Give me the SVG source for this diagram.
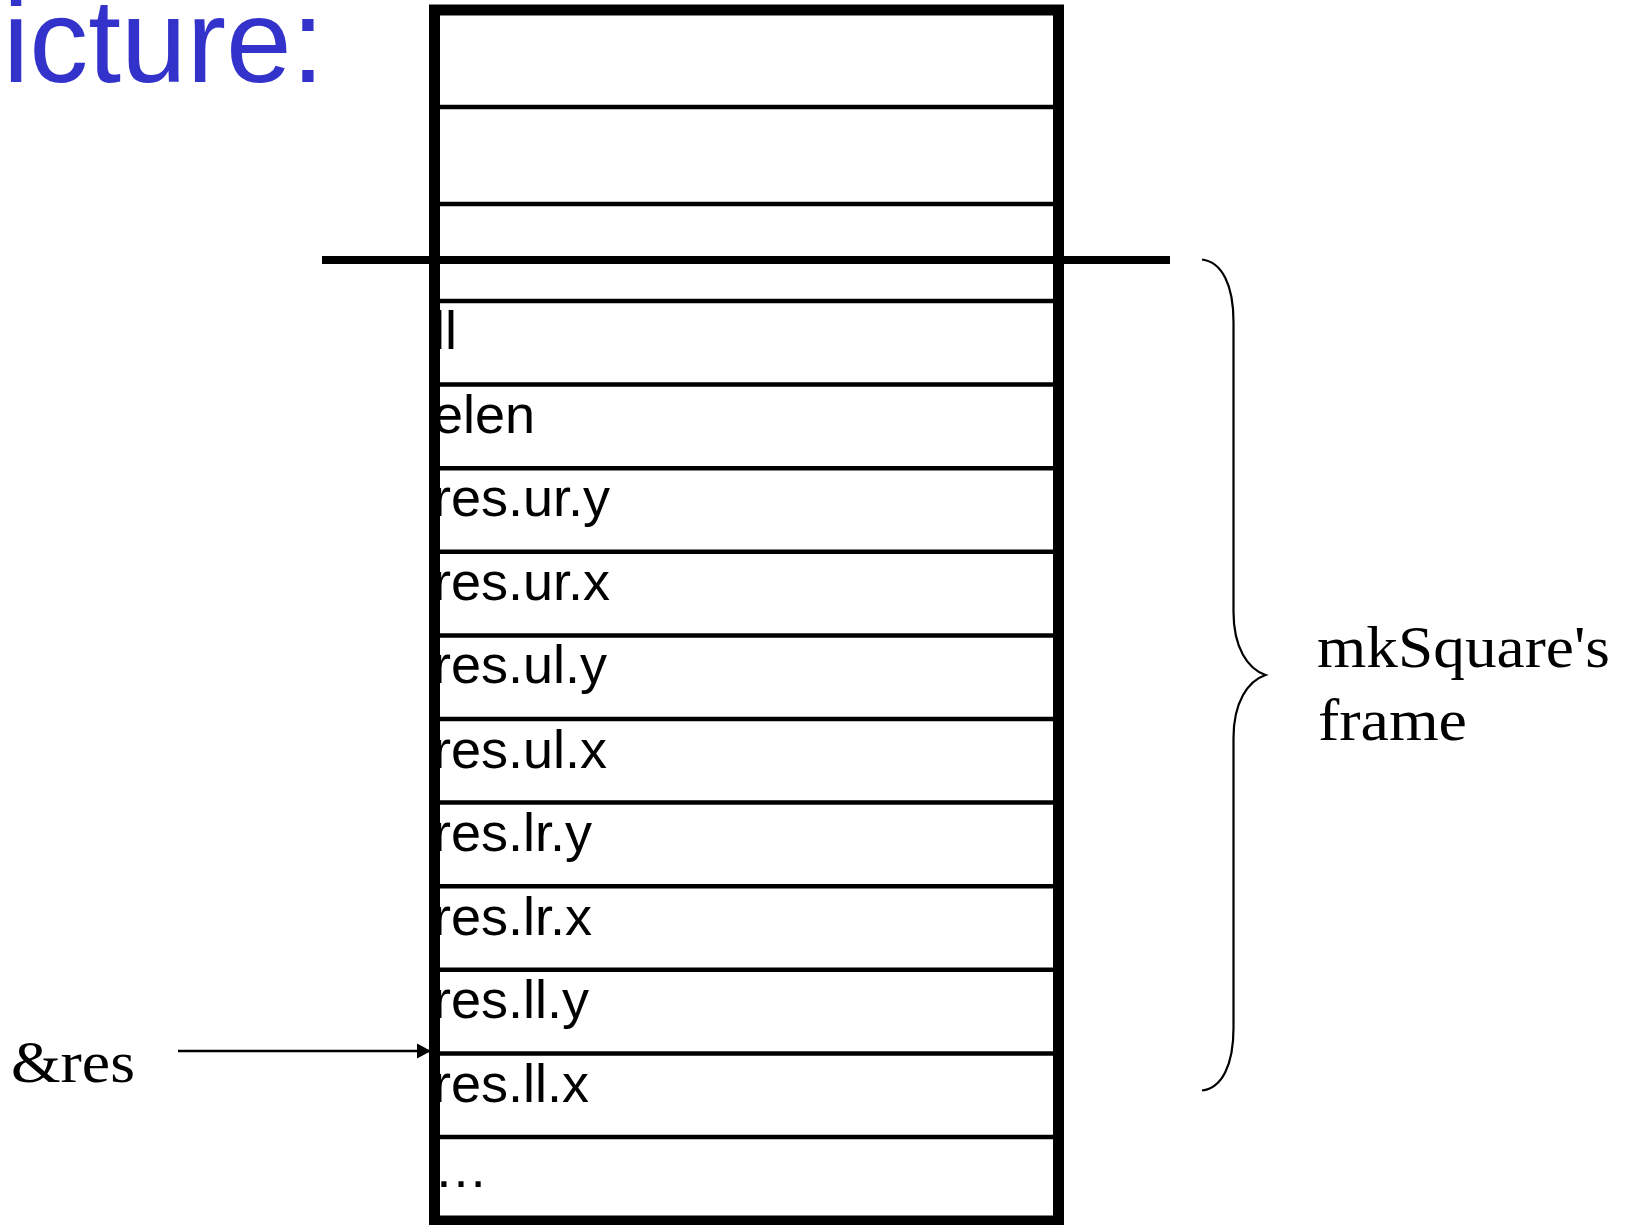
<svg xmlns="http://www.w3.org/2000/svg" width="1633" height="1225" viewBox="0 0 1633 1225">
  <style>
    .cell { font-family: "Liberation Sans", Arial, sans-serif; font-size: 54px; fill: #000; }
    .serif { font-family: "Liberation Serif", "Times New Roman", serif; font-size: 60px; fill: #000; }
    .title { font-family: "Liberation Sans", Arial, sans-serif; font-size: 118px; fill: #3333CC; }
    .row { stroke: #000; stroke-width: 4.5; }
    .outer { fill: none; stroke: #000; stroke-width: 11; }
    .brace { fill: none; stroke: #000; stroke-width: 2.2; }
  </style>
  <defs>
    <marker id="arrowhead" markerUnits="userSpaceOnUse" markerWidth="16" markerHeight="16" refX="14" refY="8" orient="auto">
      <path d="M0,0.5 L14,8 L0,15.5 Z" fill="#000"/>
    </marker>
  </defs>

  <rect width="1633" height="1225" fill="#fff"/>

  <!-- slide heading, partially off the left edge -->
  <text class="title" x="3" y="81.5">icture:</text>

  <!-- stack memory column -->
  <g id="stack">
    <g id="slot-rows">
      <line class="row" x1="434" y1="107" x2="1058" y2="107"/>
      <line class="row" x1="434" y1="204" x2="1058" y2="204"/>
      <line class="row" x1="434" y1="301" x2="1058" y2="301"/>
      <line class="row" x1="434" y1="384.6" x2="1058" y2="384.6"/>
      <line class="row" x1="434" y1="468.2" x2="1058" y2="468.2"/>
      <line class="row" x1="434" y1="551.8" x2="1058" y2="551.8"/>
      <line class="row" x1="434" y1="635.4" x2="1058" y2="635.4"/>
      <line class="row" x1="434" y1="719" x2="1058" y2="719"/>
      <line class="row" x1="434" y1="802.6" x2="1058" y2="802.6"/>
      <line class="row" x1="434" y1="886.2" x2="1058" y2="886.2"/>
      <line class="row" x1="434" y1="969.8" x2="1058" y2="969.8"/>
      <line class="row" x1="434" y1="1053.4" x2="1058" y2="1053.4"/>
      <line class="row" x1="434" y1="1137" x2="1058" y2="1137"/>
    </g>
    <g id="slot-ll"><text class="cell" x="433" y="349">ll</text></g>
    <g id="slot-elen"><text class="cell" x="433" y="432.6">elen</text></g>
    <g id="slot-res-ur-y"><text class="cell" x="433" y="516.2">res.ur.y</text></g>
    <g id="slot-res-ur-x"><text class="cell" x="433" y="599.8">res.ur.x</text></g>
    <g id="slot-res-ul-y"><text class="cell" x="433" y="683.4">res.ul.y</text></g>
    <g id="slot-res-ul-x"><text class="cell" x="433" y="767.5">res.ul.x</text></g>
    <g id="slot-res-lr-y"><text class="cell" x="433" y="851">res.lr.y</text></g>
    <g id="slot-res-lr-x"><text class="cell" x="433" y="934.6">res.lr.x</text></g>
    <g id="slot-res-ll-y"><text class="cell" x="433" y="1018.2">res.ll.y</text></g>
    <g id="slot-res-ll-x"><text class="cell" x="433" y="1101.8">res.ll.x</text></g>
    <g id="slot-more"><text class="cell" x="434" y="1186.5">…</text></g>
    <rect class="outer" x="434.5" y="10" width="624" height="1211"/>
  </g>

  <!-- stack pointer at frame boundary -->
  <g id="frame-boundary">
    <line x1="322" y1="260" x2="1170" y2="260" stroke="#000" stroke-width="8"/>
  </g>

  <!-- brace enclosing the callee frame -->
  <g id="frame-brace">
    <path class="brace" d="M1202,259.5 C1222,262 1233.5,285 1233.5,322 V612 C1233.5,648 1248,669 1265.5,675 C1248,681 1233.5,702 1233.5,738 V1028 C1233.5,1065 1222,1088 1202,1090.5"/>
  </g>
  <g id="frame-label">
    <text class="serif" x="1317" y="666.5" textLength="293" lengthAdjust="spacingAndGlyphs">mkSquare's</text>
    <text class="serif" x="1318" y="740" textLength="149" lengthAdjust="spacingAndGlyphs">frame</text>
  </g>

  <g id="pointer-label">
    <text class="serif" x="11" y="1081.5" textLength="124" lengthAdjust="spacingAndGlyphs">&amp;res</text>
  </g>

  <g id="connectors">
    <line x1="178" y1="1051" x2="431" y2="1051" stroke="#000" stroke-width="2.5" marker-end="url(#arrowhead)"/>
  </g>
</svg>
